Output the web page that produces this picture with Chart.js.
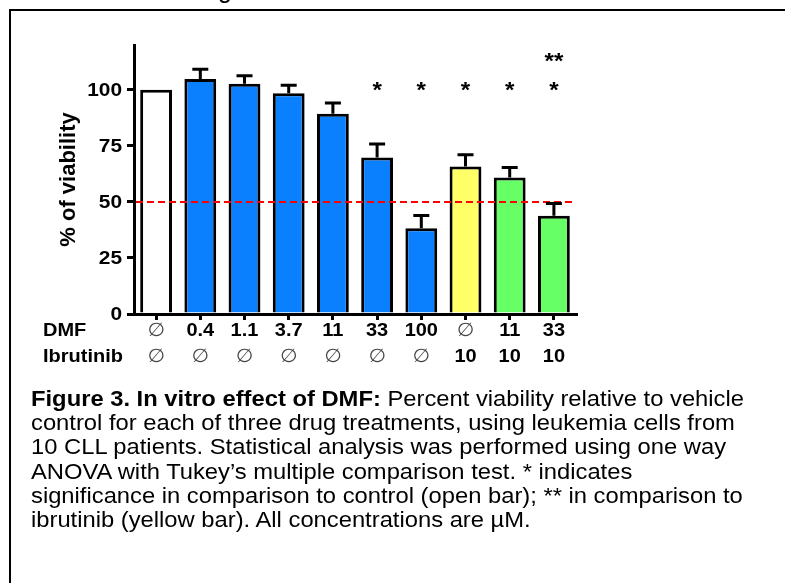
<!DOCTYPE html>
<html>
<head>
<meta charset="utf-8">
<script src="https://cdn.jsdelivr.net/npm/chart.js@4/dist/chart.umd.min.js"></script>
<style>
  html, body { margin: 0; padding: 0; background: #fff; }
  body { width: 785px; height: 583px; position: relative; overflow: hidden; font-family: "Liberation Sans", Arial, sans-serif; }
  #wrap { position: absolute; left: 0; top: 0; width: 785px; height: 583px; }
  #frame { position: absolute; left: 9px; top: 9px; width: 800px; height: 600px; border-left: 2px solid #000; border-top: 2px solid #000; pointer-events: none; }
  #cut { position: absolute; left: 218px; top: -23px; font-size: 25px; line-height: 25px; color: #000; }
  #caption { position: absolute; left: 31px; top: 387px; font-size: 22px; line-height: 24.2px; color: #000; white-space: nowrap;
    transform: scaleX(1.08); transform-origin: 0 0; }
  #caption b { font-weight: bold; }
</style>
</head>
<body>
<div id="wrap"><canvas id="chart" width="785" height="583"></canvas></div>
<div id="cut">g</div>
<div id="frame"></div>
<div id="caption"><b>Figure 3. In vitro effect of DMF:</b> Percent viability relative to vehicle<br>control for each of three drug treatments, using leukemia cells from<br>10 CLL patients. Statistical analysis was performed using one way<br>ANOVA with Tukey’s multiple comparison test. * indicates<br>significance in comparison to control (open bar); ** in comparison to<br>ibrutinib (yellow bar). All concentrations are µM.</div>
<script>
// Data
const dmfLabels = ['∅', '0.4', '1.1', '3.7', '11', '33', '100', '∅', '11', '33'];
const ibrLabels = ['∅', '∅', '∅', '∅', '∅', '∅', '∅', '10', '10', '10'];
const viability = [100, 104.8, 102.7, 98.5, 89.3, 69.8, 38.2, 65.8, 60.9, 43.8];
const sem       = [0, 4.4, 3.6, 3.6, 4.8, 6.0, 5.7, 5.2, 4.4, 5.5];
const stars     = ['', '', '', '', '', '*', '*', '*', '*', '*'];
const starsTop  = ['', '', '', '', '', '', '', '', '', '**'];
const yTicks    = [0, 25, 50, 75, 100];
const cutoff    = 50;

const COLORS = {
  white: '#ffffff',
  blue: '#0a80ff',
  yellow: '#ffff66',
  green: '#66ff66',
};
const barColors = [COLORS.white, COLORS.blue, COLORS.blue, COLORS.blue, COLORS.blue,
  COLORS.blue, COLORS.blue, COLORS.yellow, COLORS.green, COLORS.green];

const FAMILY = '"Liberation Sans", Arial, sans-serif';
const BOLD = 'bold 18px ' + FAMILY;
const PLAIN = '19px "DejaVu Sans", "Liberation Sans", sans-serif';

// the figure's lettering is a bit wide, so stretch it sideways
function wideText(ctx, text, x, y, align, sx){
  ctx.save();
  ctx.translate(x, y);
  ctx.scale(sx, 1);
  ctx.textAlign = align;
  ctx.fillText(text, 0, 0);
  ctx.restore();
}

// y tick labels, error bars, significance stars, 50% line and the two label rows
const extras = {
  id: 'extras',
  afterDatasetsDraw(chart){
    const {ctx, chartArea, scales: {x, y}} = chart;
    ctx.save();

    // dashed cutoff line
    ctx.strokeStyle = '#ff0000';
    ctx.lineWidth = 2;
    ctx.setLineDash([7, 4]);
    ctx.beginPath();
    ctx.moveTo(chartArea.left + 2, y.getPixelForValue(cutoff));
    ctx.lineTo(chartArea.right, y.getPixelForValue(cutoff));
    ctx.stroke();
    ctx.setLineDash([]);

    // error bars (upper only)
    ctx.strokeStyle = '#000';
    ctx.lineWidth = 3;
    viability.forEach((v, i) => {
      if(!sem[i]) return;
      const cx = x.getPixelForValue(i);
      const top = y.getPixelForValue(v + sem[i]);
      ctx.beginPath();
      ctx.moveTo(cx, y.getPixelForValue(v));
      ctx.lineTo(cx, top);
      ctx.moveTo(cx - 8, top);
      ctx.lineTo(cx + 8, top);
      ctx.stroke();
    });

    // y tick labels
    ctx.fillStyle = '#000';
    ctx.font = 'bold 19px ' + FAMILY;
    ctx.textBaseline = 'middle';
    yTicks.forEach(v => wideText(ctx, String(v), chartArea.left - 12, y.getPixelForValue(v) + 1, 'right', 1.1));

    // stars
    ctx.font = 'bold 22px ' + FAMILY;
    ctx.textBaseline = 'top';
    stars.forEach((s, i) => {
      if(s) wideText(ctx, s, x.getPixelForValue(i), y.getPixelForValue(104.5), 'center', 1.1);
      if(starsTop[i]) wideText(ctx, starsTop[i], x.getPixelForValue(i), y.getPixelForValue(117.2), 'center', 1.1);
    });

    // label rows under the axis
    const rows = [[dmfLabels, 'DMF', chartArea.bottom + 17], [ibrLabels, 'Ibrutinib', chartArea.bottom + 43]];
    ctx.textBaseline = 'middle';
    rows.forEach(([labels, name, py]) => {
      ctx.font = BOLD;
      ctx.fillStyle = '#000';
      wideText(ctx, name, 43, py, 'left', 1.11);
      labels.forEach((t, i) => {
        const cx = x.getPixelForValue(i);
        if(t === '∅'){
          ctx.font = PLAIN;
          ctx.fillStyle = '#444';
          wideText(ctx, t, cx, py, 'center', 1.05);
        } else {
          ctx.font = BOLD;
          ctx.fillStyle = '#000';
          wideText(ctx, t, cx, py, 'center', 1.11);
        }
      });
    });
    ctx.restore();
  }
};

new Chart(document.getElementById('chart'), {
  type: 'bar',
  data: {
    labels: dmfLabels,
    datasets: [{
      data: viability,
      backgroundColor: barColors,
      borderColor: '#000',
      borderWidth: 3,
      borderSkipped: 'bottom',
      barPercentage: 0.72,
      categoryPercentage: 1.0,
    }]
  },
  options: {
    responsive: false,
    animation: false,
    layout: { padding: { left: 56, top: 45, right: 209, bottom: 259 } },
    plugins: { legend: { display: false }, tooltip: { enabled: false } },
    scales: {
      x: {
        offset: true,
        grid: { display: true, drawOnChartArea: false, offset: false, drawTicks: true, tickLength: 6, lineWidth: 3, color: '#000' },
        border: { display: true, width: 3, color: '#000' },
        ticks: { display: false },
        afterFit(scale){ scale.height = 10; }
      },
      y: {
        min: 0,
        max: 120,
        afterBuildTicks(scale){ scale.ticks = yTicks.map(v => ({ value: v })); },
        grid: { display: true, drawOnChartArea: false, drawTicks: true, tickLength: 7, lineWidth: 3, color: '#000' },
        border: { display: true, width: 3, color: '#000' },
        ticks: { display: false },
        title: { display: true, text: '% of viability', color: '#000', padding: { top: 0, bottom: 4 },
          font: { family: FAMILY, size: 22, weight: 'bold' } },
        afterFit(scale){ scale.width = 78; }
      }
    }
  },
  plugins: [extras]
});
</script>
</body>
</html>
